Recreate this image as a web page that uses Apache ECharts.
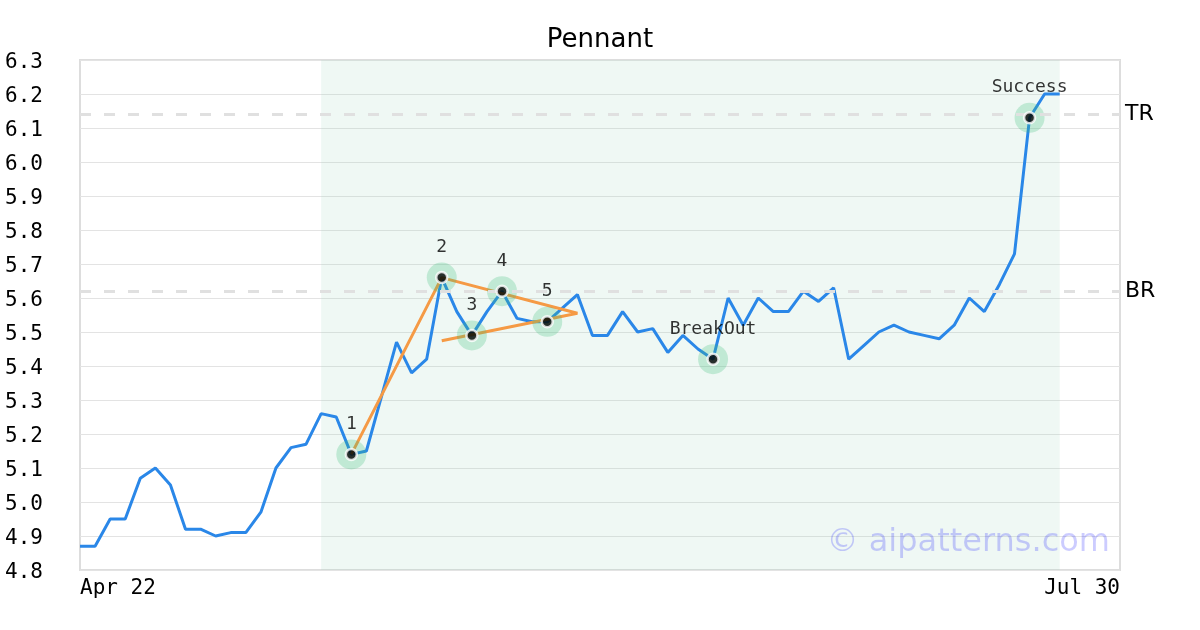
<!DOCTYPE html>
<html>
<head>
<meta charset="utf-8">
<script src="https://cdn.jsdelivr.net/npm/echarts@6/dist/echarts.min.js"></script>
<style>html,body{margin:0;padding:0;background:#fff}#c{width:1200px;height:630px}</style>
</head>
<body>
<div id="c"></div>
<script>
const categories = [
  'Apr 22','Apr 23','Apr 24','Apr 25','Apr 26','Apr 29','Apr 30',
  'May 1','May 2','May 3','May 6','May 7','May 8','May 9','May 10','May 13','May 14','May 15','May 16','May 17','May 20','May 21','May 22','May 23','May 24','May 28','May 29','May 30','May 31',
  'Jun 3','Jun 4','Jun 5','Jun 6','Jun 7','Jun 10','Jun 11','Jun 12','Jun 13','Jun 14','Jun 17','Jun 18','Jun 19','Jun 20','Jun 21','Jun 24','Jun 25','Jun 26','Jun 27','Jun 28',
  'Jul 1','Jul 2','Jul 3','Jul 5','Jul 8','Jul 9','Jul 10','Jul 11','Jul 12','Jul 15','Jul 16','Jul 17','Jul 18','Jul 19','Jul 22','Jul 23','Jul 24','Jul 25','Jul 26','Jul 29','Jul 30'
];
const price = [
  4.87,4.87,4.95,4.95,5.07,5.10,5.05,4.92,4.92,4.90,
  4.91,4.91,4.97,5.10,5.16,5.17,5.26,5.25,5.14,5.15,
  5.31,5.47,5.38,5.42,5.66,5.56,5.49,5.56,5.62,5.54,
  5.53,5.53,5.57,5.61,5.49,5.49,5.56,5.50,5.51,5.44,
  5.49,5.45,5.42,5.60,5.52,5.60,5.56,5.56,5.62,5.59,
  5.63,5.42,5.46,5.50,5.52,5.50,5.49,5.48,5.52,5.60,
  5.56,5.64,5.73,6.13,6.20,6.20
];
const yTicks = [4.8,4.9,5.0,5.1,5.2,5.3,5.4,5.5,5.6,5.7,5.8,5.9,6.0,6.1,6.2,6.3];
const patternStart = 16, patternEnd = 65;
const levelTR = 6.14, levelBR = 5.62;
const markIdx = [18, 24, 26, 28, 31, 42, 63];
const markVal = [5.14, 5.66, 5.49, 5.62, 5.53, 5.42, 6.13];
const markName = ['1','2','3','4','5','BreakOut','Success'];
const lineIdx = [18, 24, 33, 24];
const lineVal = [5.14, 5.66, 5.555, 5.474];

const marks = markIdx.map((x, i) => [x, markVal[i], markName[i]]);
const patternLine = lineIdx.map((x, i) => [x, lineVal[i]]);

const chart = echarts.init(document.getElementById('c'));
chart.setOption({
  animation: false,
  title: {
    text: 'Pennant', left: 'center', top: 27, padding: 0,
    textStyle: { fontFamily: 'DejaVu Sans', fontSize: 26, fontWeight: 'normal', color: '#000' }
  },
  grid: { left: 80, right: 80, top: 60, bottom: 60, show: true, borderColor: '#dddddd', borderWidth: 2, backgroundColor: 'transparent' },
  xAxis: {
    type: 'category', data: categories, boundaryGap: false,
    axisLine: { show: false }, axisTick: { show: false }, splitLine: { show: false },
    axisLabel: {
      interval: (i) => i === 0 || i === categories.length - 1,
      showMinLabel: true, showMaxLabel: true,
      alignMinLabel: 'left', alignMaxLabel: 'right',
      fontFamily: 'DejaVu Sans Mono', fontSize: 21, color: '#000', margin: 8
    }
  },
  yAxis: {
    type: 'value', min: yTicks[0], max: yTicks[yTicks.length - 1], interval: 0.1,
    axisLine: { show: false }, axisTick: { show: false },
    splitLine: { lineStyle: { color: '#e3e3e3', width: 1 } },
    axisLabel: {
      formatter: (v) => v.toFixed(1), align: 'left', margin: 75,
      verticalAlign: 'top', lineHeight: 5,
      fontFamily: 'DejaVu Sans Mono', fontSize: 21, color: '#000'
    }
  },
  series: [
    {
      type: 'line', data: price, symbol: 'none', z: 2,
      lineStyle: { color: '#2a87e8', width: 3 },
      markArea: {
        silent: true,
        itemStyle: { color: 'rgba(160,215,190,0.17)' },
        data: [[{ xAxis: patternStart }, { xAxis: patternEnd }]]
      },
      markLine: {
        silent: true, symbol: 'none',
        lineStyle: { color: '#e0e0e0', width: 3, type: [11, 13] },
        label: { position: 'end', distance: 5, color: '#000', fontFamily: 'DejaVu Sans', fontSize: 22, formatter: (p) => p.name },
        data: [{ yAxis: levelTR, name: 'TR' }, { yAxis: levelBR, name: 'BR' }]
      }
    },
    {
      type: 'line', data: patternLine, symbol: 'none', z: 3,
      lineStyle: { color: '#f59a45', width: 3 }
    },
    {
      type: 'scatter', data: marks, symbolSize: 30, z: 4,
      itemStyle: { color: 'rgba(60,190,120,0.33)' },
      label: {
        show: true, position: 'top', distance: 6, formatter: (p) => p.value[2],
        fontFamily: 'DejaVu Sans Mono', fontSize: 18, color: '#000'
      }
    },
    {
      type: 'scatter', data: marks, symbolSize: 11, z: 5,
      itemStyle: { color: '#000', borderColor: '#fff', borderWidth: 2.5 }
    }
  ],
  graphic: [{
    type: 'text', right: 90, top: 527, z: 10,
    style: { text: '\u00a9 aipatterns.com', fontFamily: 'DejaVu Sans', fontSize: 32, fill: 'rgba(0,0,255,0.2)' }
  }]
});
</script>
</body>
</html>
